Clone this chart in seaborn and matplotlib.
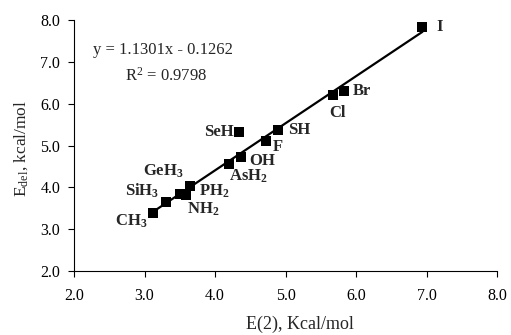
import matplotlib
matplotlib.use("Agg")
import matplotlib.pyplot as plt
import seaborn as sns
import pandas as pd

sns.set_style("white")
plt.rcParams['font.family'] = ['Liberation Serif', 'DejaVu Serif']
plt.rcParams['mathtext.fontset'] = 'custom'
plt.rcParams['mathtext.rm'] = 'Liberation Serif'
plt.rcParams['mathtext.bf'] = 'Liberation Serif:bold'
plt.rcParams['mathtext.it'] = 'Liberation Serif:italic'

labels = ["CH$_\\mathbf{3}$", "SiH$_\\mathbf{3}$", "GeH$_\\mathbf{3}$", "NH$_\\mathbf{2}$",
          "PH$_\\mathbf{2}$", "AsH$_\\mathbf{2}$", "OH", "SeH", "F", "SH", "Cl", "Br", "I"]
e2 = [3.12, 3.30, 3.50, 3.59, 3.65, 4.20, 4.37, 4.34, 4.72, 4.89, 5.67, 5.83, 6.94]
edel = [3.39, 3.65, 3.85, 3.81, 4.03, 4.57, 4.73, 5.33, 5.10, 5.38, 6.21, 6.31, 7.84]
# label offsets in points (dx, dy) and horizontal alignment
offsets = [(-16, -6, 'center'), (-17, 8, 'center'), (-12, 16, 'center'), (12, -10, 'center'),
           (6, -4, 'left'), (14, -9, 'center'), (6, -3, 'left'), (-4, 0, 'right'),
           (5, -4, 'left'), (7, 0, 'left'), (3, -13, 'center'), (6, 0, 'left'), (10, 0, 'left')]

df = pd.DataFrame({"E2": e2, "Edel": edel})

fig = plt.figure(figsize=(5.11, 3.35), dpi=100)
ax = fig.add_axes([0.145, 0.191, 0.828, 0.749])

sns.regplot(data=df, x="E2", y="Edel", ax=ax, ci=None, marker='s', color='black',
            scatter_kws=dict(s=60, linewidths=0, alpha=1, zorder=3),
            line_kws=dict(lw=1.6, color='black', zorder=2))

for lab, x, y, (dx, dy, ha) in zip(labels, e2, edel, offsets):
    ax.annotate(lab, (x, y), xytext=(dx, dy), textcoords='offset points',
                ha=ha, va='center', fontsize=12, fontweight='bold')

ax.text(0.045, 0.88, "y = 1.1301x - 0.1262", transform=ax.transAxes, fontsize=12,
        ha='left', va='center')
ax.text(0.12, 0.78, "R$^\\mathrm{2}$ = 0.9798", transform=ax.transAxes, fontsize=12,
        ha='left', va='center')

ax.set_xlim(2, 8)
ax.set_ylim(2, 8)
xt = [2, 3, 4, 5, 6, 7, 8]
yt = [2, 3, 4, 5, 6, 7, 8]
ax.set_xticks(xt)
ax.set_yticks(yt)
ax.set_xticklabels([f"{v:.1f}" for v in xt])
ax.set_yticklabels([f"{v:.1f}" for v in yt])
ax.tick_params(axis='both', direction='out', length=4, width=0.8, labelsize=11.5,
               bottom=True, left=True, colors='black')
ax.tick_params(axis='x', pad=8)
ax.tick_params(axis='y', pad=6)
for s in ['top', 'right']:
    ax.spines[s].set_visible(False)
for s in ['left', 'bottom']:
    ax.spines[s].set_color('black')
    ax.spines[s].set_linewidth(0.8)

ax.set_xlabel("E(2), Kcal/mol", fontsize=13)
ax.xaxis.set_label_coords(0.533, -0.18)
ax.set_ylabel("E$_\\mathrm{del}$, kcal/mol", fontsize=12.5)
ax.yaxis.set_label_coords(-0.104, 0.49)

fig.savefig("out.png", dpi=100)
